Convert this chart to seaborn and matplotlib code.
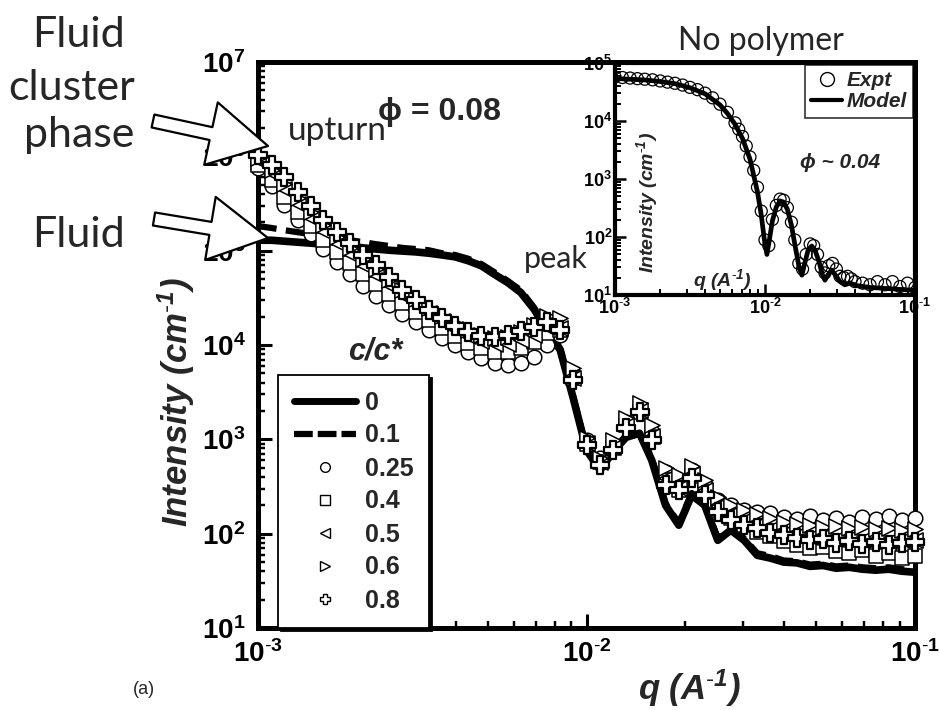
import numpy as np
import matplotlib
matplotlib.use("Agg")
import matplotlib.pyplot as plt
import seaborn as sns
from matplotlib.patches import FancyArrowPatch, ArrowStyle
from matplotlib.ticker import LogLocator, NullFormatter
from matplotlib.lines import Line2D

# ---------------- data ----------------
# scattering vector q (1/A), shared by all c/c* series
q = [1.00e-3, 1.10e-3, 1.20e-3, 1.32e-3, 1.45e-3, 1.58e-3, 1.74e-3, 1.91e-3, 2.09e-3, 2.29e-3,
     2.51e-3, 2.75e-3, 3.02e-3, 3.31e-3, 3.63e-3, 3.98e-3, 4.37e-3, 4.79e-3, 5.25e-3, 5.75e-3,
     6.31e-3, 6.92e-3, 7.59e-3, 8.32e-3, 9.12e-3, 1.00e-2, 1.10e-2, 1.20e-2, 1.32e-2, 1.45e-2,
     1.58e-2, 1.74e-2, 1.91e-2, 2.09e-2, 2.29e-2, 2.51e-2, 2.75e-2, 3.02e-2, 3.31e-2, 3.63e-2,
     3.98e-2, 4.37e-2, 4.79e-2, 5.25e-2, 5.75e-2, 6.31e-2, 6.92e-2, 7.59e-2, 8.32e-2, 9.12e-2,
     1.00e-1]

# intensity (1/cm) for each polymer concentration c/c*
I_c0 = [1.29e5, 1.29e5, 1.26e5, 1.23e5, 1.20e5, 1.17e5, 1.15e5, 1.12e5, 1.07e5, 1.04e5,
        1.01e5, 9.9e4, 9.7e4, 9.4e4, 9.0e4, 8.6e4, 7.8e4, 6.9e4, 5.6e4, 4.6e4,
        3.6e4, 2.4e4, 1.44e4, 8.8e3, 2.7e3, 7.7e2, 4.7e2, 7.3e2, 1.05e3, 1.16e3,
        6.0e2, 2.0e2, 1.23e2, 2.56e2, 2.0e2, 85, 109, 85, 59, 55,
        50, 49, 45, 46, 43, 44, 42, 41, 42, 40,
        39]
I_c01 = [1.82e5, 1.74e5, 1.65e5, 1.57e5, 1.50e5, 1.43e5, 1.36e5, 1.29e5, 1.23e5, 1.17e5,
         1.12e5, 1.07e5, 1.04e5, 1.01e5, 9.4e4, 9.0e4, 8.2e4, 7.2e4, 5.9e4, 4.8e4,
         3.8e4, 2.5e4, 1.5e4, 9.2e3, 2.8e3, 8.0e2, 4.9e2, 7.6e2, 1.10e3, 1.22e3,
         6.3e2, 2.1e2, 1.29e2, 2.7e2, 2.1e2, 89, 114, 89, 62, 58,
         52, 51, 47, 48, 45, 46, 44, 43, 44, 42,
         41]
I_c025 = [7.51e5, 4.84e5, 3.04e5, 2.11e5, 1.50e5, 1.04e5, 7.57e4, 5.65e4, 4.21e4, 3.30e4,
          2.65e4, 2.13e4, 1.75e4, 1.44e4, 1.18e4, 1.00e4, 8.40e3, 7.26e3, 6.43e3, 6.12e3,
          6.43e3, 7.44e3, 1.00e4, 1.27e4, 4.79e3, 9.80e2, 6.32e2, 8.67e2, 1.52e3, 2.04e3,
          1.19e3, 4.49e2, 3.27e2, 4.71e2, 3.27e2, 2.27e2, 2.00e2, 1.78e2, 1.69e2, 1.65e2,
          1.50e2, 1.43e2, 1.53e2, 1.39e2, 1.46e2, 1.34e2, 1.50e2, 1.43e2, 1.53e2, 1.39e2,
          1.46e2]
I_c04 = [8.08e5, 5.61e5, 3.70e5, 2.57e5, 1.82e5, 1.29e5, 9.66e4, 7.38e4, 5.65e4, 4.42e4,
         3.46e4, 2.78e4, 2.23e4, 1.84e4, 1.51e4, 1.24e4, 1.05e4, 9.27e3, 8.40e3, 8.40e3,
         9.27e3, 1.07e4, 1.34e4, 1.44e4, 4.45e3, 8.89e2, 5.73e2, 8.06e2, 1.41e3, 1.94e3,
         1.05e3, 3.69e2, 2.89e2, 4.06e2, 2.75e2, 1.78e2, 1.46e2, 1.23e2, 1.04e2, 93.9,
         83.2, 75.5, 70.2, 71.9, 65.1, 62.1, 66.8, 57.6, 62.1, 55.0,
         57.6]
I_c05 = [9.13e5, 6.65e5, 4.50e5, 3.12e5, 2.22e5, 1.61e5, 1.20e5, 9.20e4, 7.05e4, 5.51e4,
         4.32e4, 3.38e4, 2.71e4, 2.18e4, 1.79e4, 1.47e4, 1.24e4, 1.10e4, 1.02e4, 1.02e4,
         1.13e4, 1.27e4, 1.55e4, 1.51e4, 4.45e3, 9.11e2, 5.73e2, 8.26e2, 1.45e3, 2.04e3,
         1.08e3, 3.88e2, 3.04e2, 4.27e2, 2.89e2, 1.96e2, 1.61e2, 1.39e2, 1.23e2, 1.12e2,
         1.01e2, 96.4, 91.8, 93.9, 87.4, 89.7, 85.3, 87.4, 83.2, 85.3,
         85.3]
I_c06 = [9.58e5, 7.15e5, 5.08e5, 3.61e5, 2.57e5, 1.87e5, 1.39e5, 1.07e5, 8.13e4, 6.37e4,
         4.88e4, 3.83e4, 3.07e4, 2.46e4, 2.03e4, 1.71e4, 1.44e4, 1.27e4, 1.18e4, 1.22e4,
         1.37e4, 1.63e4, 2.03e4, 1.93e4, 5.69e3, 1.03e3, 6.32e2, 9.80e2, 1.68e3, 2.42e3,
         1.41e3, 4.95e2, 4.17e2, 5.20e2, 3.69e2, 2.44e2, 2.00e2, 1.78e2, 1.61e2, 1.46e2,
         1.34e2, 1.26e2, 1.23e2, 1.17e2, 1.20e2, 1.14e2, 1.17e2, 1.12e2, 1.14e2, 1.09e2,
         1.12e2]
I_c08 = [1.03e6, 8.08e5, 6.03e5, 4.18e5, 2.97e5, 2.11e5, 1.58e5, 1.20e5, 8.99e4, 7.05e4,
         5.25e4, 3.83e4, 2.99e4, 2.35e4, 1.93e4, 1.59e4, 1.37e4, 1.24e4, 1.22e4, 1.27e4,
         1.40e4, 1.55e4, 1.75e4, 1.44e4, 4.24e3, 8.67e2, 5.32e2, 7.68e2, 1.31e3, 1.94e3,
         9.80e2, 3.27e2, 2.89e2, 3.88e2, 2.56e2, 1.69e2, 1.39e2, 1.23e2, 1.14e2, 1.01e2,
         96.4, 89.7, 85.3, 87.4, 79.3, 83.2, 77.4, 81.3, 75.5, 79.3,
         81.3]

conc_labels = ["0", "0.1", "0.25", "0.4", "0.5", "0.6", "0.8"]

# inset: polymer-free suspension, measured curve and model fit
q_expt = [1.00e-3, 1.12e-3, 1.26e-3, 1.41e-3, 1.58e-3, 1.78e-3, 2.00e-3, 2.24e-3, 2.51e-3, 2.82e-3,
          3.16e-3, 3.55e-3, 3.98e-3, 4.47e-3, 5.01e-3, 5.62e-3, 6.31e-3, 6.68e-3, 7.08e-3, 7.50e-3,
          7.94e-3, 8.41e-3, 8.91e-3, 9.44e-3, 1.00e-2, 1.06e-2, 1.12e-2, 1.19e-2, 1.26e-2, 1.33e-2,
          1.41e-2, 1.50e-2, 1.58e-2, 1.68e-2, 1.78e-2, 1.88e-2, 2.00e-2, 2.11e-2, 2.24e-2, 2.37e-2,
          2.51e-2, 2.66e-2, 2.82e-2, 2.99e-2, 3.16e-2, 3.35e-2, 3.55e-2, 3.76e-2, 3.98e-2, 4.47e-2,
          5.01e-2, 5.62e-2, 6.31e-2, 7.08e-2, 7.94e-2, 8.91e-2, 1.00e-1]
I_expt = [5.75e4, 5.62e4, 5.50e4, 5.37e4, 5.25e4, 5.13e4, 4.90e4, 4.68e4, 4.47e4, 4.17e4,
          3.80e4, 3.47e4, 3.02e4, 2.51e4, 1.95e4, 1.41e4, 9.3e3, 7.2e3, 5.4e3, 3.7e3,
          2.4e3, 1.41e3, 7.2e2, 2.8e2, 89, 71, 2.0e2, 3.5e2, 4.5e2, 4.3e2,
          3.2e2, 1.8e2, 89, 35, 28, 50, 76, 71, 50, 30,
          24, 32, 35, 28, 21, 20, 21, 19, 17, 16,
          15, 17, 15, 17, 14, 16, 13.5]
q_model = [1.00e-3, 1.26e-3, 1.58e-3, 2.00e-3, 2.51e-3, 3.16e-3, 3.98e-3, 5.01e-3, 5.62e-3, 6.31e-3,
           7.08e-3, 7.94e-3, 8.91e-3, 9.44e-3, 9.90e-3, 1.03e-2, 1.07e-2, 1.12e-2, 1.19e-2, 1.26e-2,
           1.33e-2, 1.41e-2, 1.50e-2, 1.58e-2, 1.68e-2, 1.76e-2, 1.84e-2, 1.94e-2, 2.05e-2, 2.16e-2,
           2.29e-2, 2.42e-2, 2.51e-2, 2.62e-2, 2.78e-2, 2.95e-2, 3.16e-2, 3.40e-2, 3.70e-2, 4.10e-2,
           5.00e-2, 6.31e-2, 7.94e-2, 1.00e-1]
I_model = [5.4e4, 5.25e4, 5.1e4, 4.8e4, 4.4e4, 3.75e4, 2.95e4, 1.9e4, 1.35e4, 8.8e3,
           5.0e3, 2.2e3, 6.0e2, 2.4e2, 90, 50, 90, 1.9e2, 3.3e2, 4.2e2,
           4.0e2, 3.0e2, 1.6e2, 75, 32, 22, 35, 60, 70, 58,
           38, 22, 18, 22, 27, 22, 17, 15, 16, 14.5,
           13.5, 13, 12.5, 12]

main_yticks = [1e1, 1e2, 1e3, 1e4, 1e5, 1e6, 1e7]
main_ylabels = [r"$10^{1}$", r"$10^{2}$", r"$10^{3}$", r"$10^{4}$", r"$10^{5}$", r"$10^{6}$", r"$10^{7}$"]
inset_yticks = [1e1, 1e2, 1e3, 1e4, 1e5]
inset_ylabels = [r"$10^{1}$", r"$10^{2}$", r"$10^{3}$", r"$10^{4}$", r"$10^{5}$"]
xticks = [1e-3, 1e-2, 1e-1]
xlabels = [r"$10^{\text{-}3}$", r"$10^{\text{-}2}$", r"$10^{\text{-}1}$"]

# ---------------- style ----------------
sns.set_theme(style="ticks")
plt.rcParams["font.family"] = ["Liberation Sans", "DejaVu Sans"]
plt.rcParams["mathtext.fontset"] = "custom"
plt.rcParams["mathtext.rm"] = "Liberation Sans"
plt.rcParams["mathtext.it"] = "Liberation Sans:italic"
plt.rcParams["mathtext.bf"] = "Liberation Sans:bold"
plt.rcParams["mathtext.default"] = "regular"

W, H = 939, 710
fig = plt.figure(figsize=(W / 100, H / 100), dpi=100)
fig.patch.set_facecolor("white")


def fx(px):
    return px / W


def fy(py):
    return 1 - py / H


def style_log_axes(a, spine_w, major_len, minor_len, tick_w, labelsize, pad):
    a.set_xscale("log")
    a.set_yscale("log")
    for side in ("left", "bottom", "right", "top"):
        a.spines[side].set_linewidth(spine_w)
        a.spines[side].set_color("black")
        a.spines[side].set_visible(True)
    a.xaxis.set_minor_locator(LogLocator(base=10, subs=np.arange(2, 10), numticks=100))
    a.yaxis.set_minor_locator(LogLocator(base=10, subs=np.arange(2, 10), numticks=100))
    a.xaxis.set_minor_formatter(NullFormatter())
    a.yaxis.set_minor_formatter(NullFormatter())
    a.tick_params(which="major", direction="in", length=major_len, width=tick_w,
                  top=False, right=False, colors="black", labelsize=labelsize, pad=pad)
    a.tick_params(which="minor", direction="in", length=minor_len, width=tick_w * 0.8,
                  top=False, right=False, colors="black")
    a.grid(False)


# ---------------- main panel ----------------
ax = fig.add_axes([fx(258), fy(628), (915 - 258) / W, (628 - 62) / H])
ax.set_zorder(2)
ax.patch.set_visible(False)
style_log_axes(ax, 3.6, 10, 5, 2.2, 20, 9)
ax.set_xlim(1e-3, 1e-1)
ax.set_ylim(1e1, 1e7)

sns.lineplot(x=q, y=I_c0, ax=ax, color="black", linewidth=5.5, estimator=None, sort=False, zorder=3)
sns.lineplot(x=q, y=I_c01, ax=ax, color="black", linewidth=4.5, linestyle=(0, (3.0, 1.5)),
             estimator=None, sort=False, zorder=3)

marker_series = [
    (I_c025, "o", 110, 1.1),
    (I_c04, "s", 95, 1.1),
    (I_c05, "<", 120, 1.1),
    (I_c06, ">", 120, 1.1),
    (I_c08, "P", 150, 1.6),
]
for vals, mk, size, lw in marker_series:
    sns.scatterplot(x=q, y=vals, ax=ax, marker=mk, s=size, color="white",
                    edgecolor="black", linewidth=lw, zorder=4, clip_on=False)

ax.set_xticks(xticks)
ax.set_xticklabels(xlabels, fontsize=20, fontweight="bold")
ax.set_yticks(main_yticks)
ax.set_yticklabels(main_ylabels, fontsize=20, fontweight="bold")
ax.set_xlabel("")
ax.set_ylabel("")

mk_kw = dict(linestyle="none", markerfacecolor="white", markeredgecolor="black", markeredgewidth=1.0, markersize=7)
handles = [
    Line2D([0], [0], color="black", linewidth=5),
    Line2D([0], [0], color="black", linewidth=4.5, linestyle=(0, (3.0, 0.8))),
    Line2D([0], [0], marker="o", **mk_kw),
    Line2D([0], [0], marker="s", **mk_kw),
    Line2D([0], [0], marker="<", **mk_kw),
    Line2D([0], [0], marker=">", **mk_kw),
    Line2D([0], [0], marker="P", **mk_kw),
]
leg = ax.legend(handles, conc_labels, loc="lower left", bbox_to_anchor=((278 - 258) / 657, 0.0),
                borderaxespad=0, frameon=True, fancybox=False,
                shadow={"color": "black", "alpha": 1.0},
                prop={"weight": "bold", "size": 18}, handlelength=2.5, handletextpad=0.35,
                labelspacing=0.36, borderpad=0.62)
leg.get_frame().set_edgecolor("black")
leg.get_frame().set_linewidth(1.3)
leg.set_zorder(6)

# axis titles and annotations
fig.text(fx(176), fy(402), r"Intensity (cm$^{\text{-}1}$)", rotation=90, ha="center", va="center",
         fontsize=25, fontweight="bold", fontstyle="italic")
fig.text(fx(690), fy(688), r"q (A$^{\text{-}1}$)", ha="center", va="center",
         fontsize=25, fontweight="bold", fontstyle="italic")
fig.text(fx(378), fy(120), "ϕ = 0.08", ha="left", va="baseline", fontsize=23, fontweight="bold")
fig.text(fx(348), fy(360), "c/c*", ha="left", va="baseline", fontsize=22,
         fontweight="bold", fontstyle="italic")
fig.text(fx(144), fy(690), "(a)", ha="center", va="center", fontsize=13)

hand = dict(family=["Lato", "DejaVu Sans"], fontweight="normal", ha="center", va="baseline")
fig.text(fx(78), fy(47), "Fluid", fontsize=31, **hand)
fig.text(fx(72), fy(100), "cluster", fontsize=31, **hand)
fig.text(fx(79), fy(147), "phase", fontsize=31, **hand)
fig.text(fx(78), fy(247), "Fluid", fontsize=31, **hand)
fig.text(fx(337), fy(140), "upturn", fontsize=24, **hand)
fig.text(fx(556), fy(268), "peak", fontsize=22, **hand)
fig.text(fx(761), fy(50), "No polymer", fontsize=23, **hand)

# open block arrows pointing at the two low-q regimes
arrow_style = ArrowStyle("Simple", head_length=42, head_width=46, tail_width=9.5)
for (xa, ya), (xb, yb) in [((153, 121), (268, 146)), ((154, 219), (268, 238))]:
    arr = FancyArrowPatch((fx(xa), fy(ya)), (fx(xb), fy(yb)), transform=fig.transFigure,
                          arrowstyle=arrow_style, mutation_scale=1, shrinkA=0, shrinkB=0,
                          facecolor="white", edgecolor="black", linewidth=1.6, zorder=10)
    fig.add_artist(arr)

# ---------------- inset ----------------
axin = fig.add_axes([fx(615), fy(295), (915 - 615) / W, (295 - 63) / H])
axin.set_zorder(1)
axin.set_facecolor("white")
style_log_axes(axin, 3.0, 8, 4, 1.8, 13, 2)
axin.set_xlim(1e-3, 1e-1)
axin.set_ylim(1e1, 1e5)

sns.lineplot(x=q_model, y=I_model, ax=axin, color="black", linewidth=3.4, estimator=None, sort=False, zorder=3)
sns.scatterplot(x=q_expt, y=I_expt, ax=axin, marker="o", s=75, facecolor="none",
                edgecolor="black", linewidth=0.9, zorder=4)

axin.set_xticks(xticks)
axin.set_xticklabels(xlabels, fontsize=13, fontweight="bold")
axin.set_yticks(inset_yticks)
axin.set_yticklabels(inset_ylabels, fontsize=13, fontweight="bold")
axin.set_xlabel("")
axin.set_ylabel("")

in_handles = [
    Line2D([0], [0], marker="o", linestyle="none", markerfacecolor="white",
           markeredgecolor="black", markeredgewidth=1.0, markersize=10),
    Line2D([0], [0], color="black", linewidth=3),
]
leg_in = axin.legend(in_handles, ["Expt", "Model"], loc="upper right", borderaxespad=0.1,
                     frameon=True, fancybox=False, prop={"weight": "bold", "style": "italic", "size": 15},
                     handlelength=1.5, handletextpad=0.2, labelspacing=0.1, borderpad=0.3)
leg_in.get_frame().set_edgecolor("black")
leg_in.get_frame().set_linewidth(1.2)

axin.text((647 - 615) / 300, (295 - 202) / 232, r"Intensity (cm$^{\text{-}1}$)", transform=axin.transAxes,
          rotation=90, ha="center", va="center", fontsize=14, fontweight="bold", fontstyle="italic")
axin.text((722 - 615) / 300, (295 - 280) / 232, r"q (A$^{\text{-}1}$)", transform=axin.transAxes,
          ha="center", va="center", fontsize=14, fontweight="bold", fontstyle="italic")
axin.text((840 - 615) / 300, (295 - 163) / 232, "ϕ ~ 0.04", transform=axin.transAxes,
          ha="center", va="center", fontsize=15, fontweight="bold", fontstyle="italic")

fig.savefig("out.png", dpi=100, facecolor="white")
